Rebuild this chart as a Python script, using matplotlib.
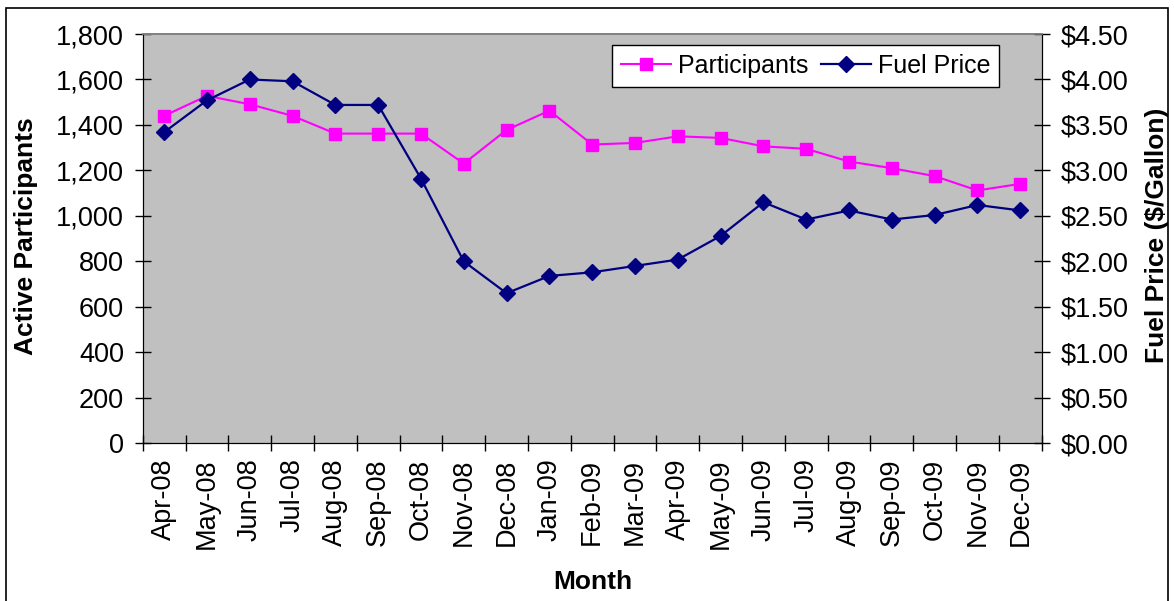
import matplotlib
matplotlib.use("Agg")
import matplotlib.pyplot as plt
from matplotlib.ticker import FuncFormatter, MultipleLocator, FixedLocator
from matplotlib.patches import Rectangle

months = ["Apr-08", "May-08", "Jun-08", "Jul-08", "Aug-08", "Sep-08", "Oct-08",
          "Nov-08", "Dec-08", "Jan-09", "Feb-09", "Mar-09", "Apr-09", "May-09",
          "Jun-09", "Jul-09", "Aug-09", "Sep-09", "Oct-09", "Nov-09", "Dec-09"]
participants = [1440, 1528, 1491, 1440, 1362, 1362, 1362, 1230, 1378, 1463, 1314,
                1321, 1350, 1343, 1306, 1295, 1239, 1210, 1175, 1112, 1141]
fuel_price = [3.42, 3.77, 4.00, 3.98, 3.72, 3.72, 2.91, 2.00, 1.65, 1.84, 1.88,
              1.95, 2.02, 2.28, 2.65, 2.46, 2.56, 2.46, 2.51, 2.62, 2.56]

plt.rcParams["font.family"] = ["Liberation Sans", "DejaVu Sans"]

W, H = 1174, 601
fig = plt.figure(figsize=(W / 100, H / 100), dpi=100)
fig.patch.set_facecolor("white")

# outer chart frame
fig.patches.append(Rectangle((6 / W, -0.05), (1168 - 6) / W, 1 - 8 / H + 0.05,
                             transform=fig.transFigure, fill=False,
                             edgecolor="black", linewidth=1.2))

left, right, top, bottom = 142.7, 1041.7, 34, 443.3
ax = fig.add_axes([left / W, 1 - bottom / H, (right - left) / W, (bottom - top) / H])
ax.set_facecolor("#C0C0C0")
ax2 = ax.twinx()
ax2.patch.set_visible(False)

x = list(range(len(months)))
ln1, = ax.plot(x, participants, color="#FF00FF", marker="s", markersize=9,
               linewidth=1.5, label="Participants", clip_on=False)
ln2, = ax2.plot(x, fuel_price, color="#000080", marker="D", markersize=8.5,
                linewidth=1.6, label="Fuel Price", clip_on=False)

ax.set_xlim(-0.5, len(months) - 0.5)
ax.set_ylim(0, 1800)
ax2.set_ylim(0, 4.5)

ax.yaxis.set_major_locator(MultipleLocator(200))
ax.yaxis.set_major_formatter(FuncFormatter(lambda v, p: f"{int(v):,}"))
ax2.yaxis.set_major_locator(MultipleLocator(0.5))
ax2.yaxis.set_major_formatter(FuncFormatter(lambda v, p: f"${v:.2f}"))

# category ticks between months, labels centred on months
ax.xaxis.set_major_locator(FixedLocator([i - 0.5 for i in range(len(months) + 1)]))
ax.xaxis.set_major_formatter(FuncFormatter(lambda v, p: ""))
ax.xaxis.set_minor_locator(FixedLocator(x))
ax.set_xticklabels(months, minor=True, rotation=90, fontsize=19.5)
ax.tick_params(axis="x", which="minor", length=0, pad=11)
ax.tick_params(axis="x", which="major", direction="inout", length=11, width=1)

ax.tick_params(axis="y", direction="inout", length=11, width=1, labelsize=19.5, pad=8)
ax2.tick_params(axis="y", direction="inout", length=11, width=1, labelsize=19.5, pad=8)

for a in (ax, ax2):
    a.spines["top"].set_color("#808080")
    a.spines["top"].set_linewidth(1.2)
    a.spines["left"].set_color("black")
    a.spines["right"].set_color("black")
    a.spines["bottom"].set_color("black")

fig.text(26 / W, 1 - 236 / H, "Active Participants", rotation=90, ha="center",
         va="center", fontsize=19, fontweight="bold")
fig.text(1157 / W, 1 - 235 / H, "Fuel Price ($/Gallon)", rotation=90, ha="center",
         va="center", fontsize=19, fontweight="bold")
fig.text(593 / W, 1 - 582 / H, "Month", ha="center", va="center",
         fontsize=19, fontweight="bold")

leg = ax2.legend([ln1, ln2], ["Participants", "Fuel Price"], loc="upper right",
                 bbox_to_anchor=(999 / W, 1 - 45 / H), bbox_transform=fig.transFigure,
                 ncol=2, fontsize=18, frameon=True, fancybox=False, borderaxespad=0,
                 handlelength=2.0, handletextpad=0.28, columnspacing=0.5,
                 borderpad=0.35)
leg.get_frame().set_edgecolor("black")
leg.get_frame().set_facecolor("white")
leg.get_frame().set_alpha(1)
leg.get_frame().set_linewidth(1)

fig.savefig("out.png", dpi=100)
